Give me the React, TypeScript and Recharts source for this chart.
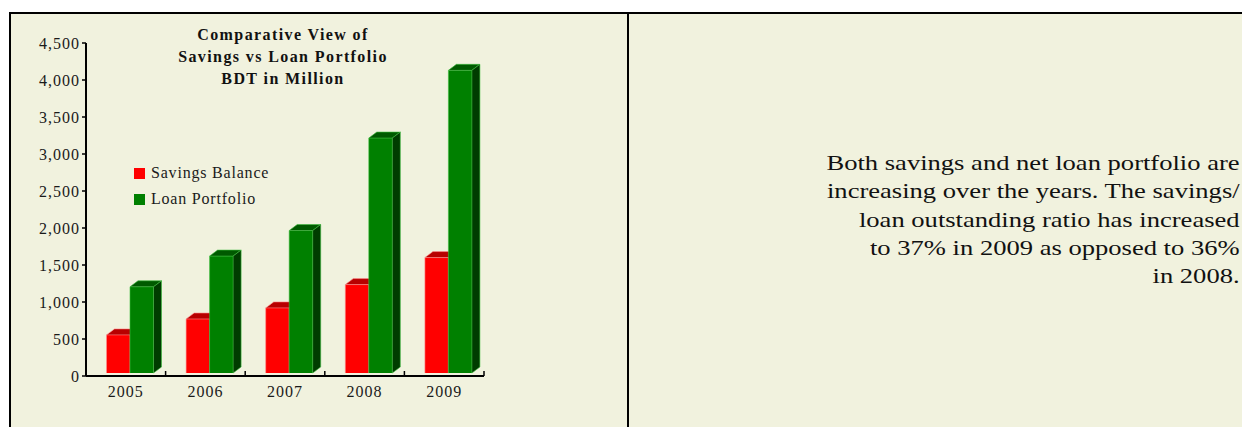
import React from "react"
import { BarChart, Bar, XAxis, YAxis } from "recharts"

// values in BDT million
const years = ["2005", "2006", "2007", "2008", "2009"]
const savingsBalance = [515, 730, 880, 1195, 1560]
const loanPortfolio = [1165, 1580, 1925, 3175, 4090]
const yTicks = [0, 500, 1000, 1500, 2000, 2500, 3000, 3500, 4000, 4500]

const titleLines = ["Comparative View of", "Savings vs Loan Portfolio", "BDT in Million"]
const noteLines = [
  "Both savings and net loan portfolio are",
  "increasing over the years. The savings/",
  "loan outstanding ratio has increased",
  "to 37% in 2009 as opposed to 36%",
  "in 2008.",
]

const data = years.map((year, i) => ({
  year,
  savings: savingsBalance[i],
  loan: loanPortfolio[i],
}))

const SERIF = "'Liberation Serif', 'Times New Roman', serif"
const BG = "#F1F2DE"

const CHART_W = 620
const CHART_H = 420
const MARGIN = { top: 43, right: 136, bottom: 14, left: 0 }
const Y_AXIS_W = 86

// 3d look: depth of the box and small shift of the front face
const DEPTH_X = 8
const DEPTH_Y = 6
const SHIFT_X = 4.5
const SHIFT_Y = -3

const shades: Record<string, { top: string; side: string; edge: string }> = {
  "#FF0000": { top: "#B80000", side: "#8C0000", edge: "#FF9090" },
  "#008000": { top: "#005A00", side: "#003C00", edge: "#3DBE3D" },
}

function Bar3D(props: any) {
  const { x, y, width, height, fill } = props
  if (height == null || height <= 0) return null
  const s = shades[fill] || { top: fill, side: fill, edge: fill }
  const fx = x + SHIFT_X
  const fy = y + SHIFT_Y
  const top = `${fx},${fy} ${fx + DEPTH_X},${fy - DEPTH_Y} ${fx + width + DEPTH_X},${fy - DEPTH_Y} ${fx + width},${fy}`
  const side = `${fx + width},${fy} ${fx + width + DEPTH_X},${fy - DEPTH_Y} ${fx + width + DEPTH_X},${fy + height - DEPTH_Y} ${fx + width},${fy + height}`
  return (
    <g>
      <rect x={fx} y={fy} width={width} height={height} fill={fill} />
      <polygon points={top} fill={s.top} stroke={s.edge} strokeWidth={0.6} />
      <polygon points={side} fill={s.side} stroke={s.edge} strokeWidth={0.6} />
      <line x1={fx} y1={fy} x2={fx} y2={fy + height} stroke={s.edge} strokeWidth={0.6} />
    </g>
  )
}

function YearTick(props: any) {
  const { x, y, payload } = props
  const plotW = CHART_W - MARGIN.left - MARGIN.right - Y_AXIS_W
  const half = payload && payload.offset ? payload.offset : plotW / years.length / 2
  const axisY = y - 10
  return (
    <g>
      <line x1={x + half} y1={axisY} x2={x + half} y2={axisY - 5} stroke="#000" strokeWidth={1.5} />
      <text
        x={x}
        y={y}
        dy="0.71em"
        textAnchor="middle"
        fill="#1a1a1a"
        style={{ fontFamily: SERIF, fontSize: 16, letterSpacing: 1 }}
      >
        {payload.value}
      </text>
    </g>
  )
}

function LegendBox() {
  const items = [
    { label: "Savings Balance", color: "#FF0000" },
    { label: "Loan Portfolio", color: "#008000" },
  ]
  return (
    <div
      style={{
        position: "absolute",
        left: 134,
        top: 160,
        fontFamily: SERIF,
        fontSize: 16,
        letterSpacing: 0.8,
        color: "#1a1a1a",
      }}
    >
      {items.map((it) => (
        <div key={it.label} style={{ display: "flex", alignItems: "center", height: 26 }}>
          <span style={{ width: 11, height: 11, background: it.color, marginRight: 6, display: "inline-block" }} />
          <span>{it.label}</span>
        </div>
      ))}
    </div>
  )
}

export default function App() {
  return (
    <div
      style={{
        position: "absolute",
        left: 0,
        top: 0,
        width: 1242,
        height: 427,
        background: "#fff",
        overflow: "hidden",
      }}
    >
      <div
        style={{
          position: "absolute",
          left: 9,
          top: 12,
          width: 1300,
          height: 500,
          border: "2px solid #000",
          background: BG,
          boxSizing: "border-box",
        }}
      />
      <div style={{ position: "absolute", left: 627, top: 12, width: 2, height: 420, background: "#000" }} />

      <div
        style={{
          position: "absolute",
          left: 133,
          top: 24,
          width: 300,
          textAlign: "center",
          fontFamily: SERIF,
          fontWeight: "bold",
          fontSize: 16,
          letterSpacing: 1.4,
          lineHeight: "22px",
          color: "#111",
        }}
      >
        {titleLines.map((t) => (
          <div key={t}>{t}</div>
        ))}
      </div>

      <div style={{ position: "absolute", left: 0, top: 0 }}>
        <BarChart
          width={CHART_W}
          height={CHART_H}
          data={data}
          margin={MARGIN}
          barGap={0}
          barSize={23.5}
        >
          <XAxis
            dataKey="year"
            height={30}
            axisLine={{ stroke: "#000", strokeWidth: 2 }}
            tickLine={false}
            tickSize={8}
            tickMargin={2}
            tick={<YearTick />}
            interval={0}
          />
          <YAxis
            width={Y_AXIS_W}
            domain={[0, 4500]}
            ticks={yTicks}
            interval={0}
            tickFormatter={(v: number) => v.toLocaleString("en-US")}
            axisLine={{ stroke: "#000", strokeWidth: 2 }}
            tickLine={{ stroke: "#000", strokeWidth: 1.5 }}
            tickSize={4}
            tickMargin={2}
            tick={{ fontFamily: SERIF, fontSize: 16, fill: "#1a1a1a", letterSpacing: 1 }}
          />
          <Bar dataKey="savings" name="Savings Balance" fill="#FF0000" shape={<Bar3D />} isAnimationActive={false} />
          <Bar dataKey="loan" name="Loan Portfolio" fill="#008000" shape={<Bar3D />} isAnimationActive={false} />
        </BarChart>
      </div>
      <LegendBox />

      <div
        style={{
          position: "absolute",
          right: 2,
          top: 149,
          textAlign: "right",
          fontFamily: SERIF,
          fontSize: 21,
          lineHeight: "28.3px",
          color: "#111",
          whiteSpace: "nowrap",
          transform: "scaleX(1.265)",
          transformOrigin: "right center",
        }}
      >
        {noteLines.map((t) => (
          <div key={t}>{t}</div>
        ))}
      </div>
    </div>
  )
}
